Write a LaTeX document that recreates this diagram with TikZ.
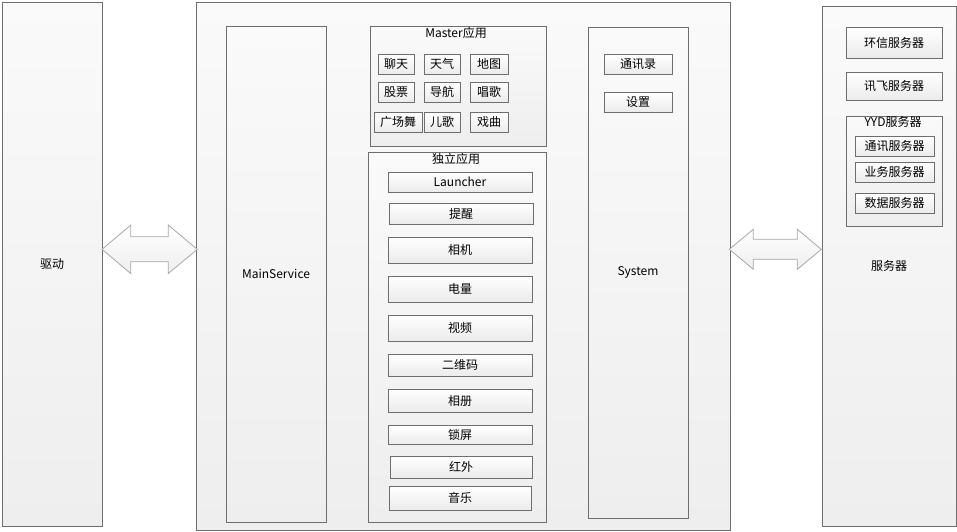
\documentclass[tikz,border=0pt]{standalone}
\usepackage{fontspec}
\setmainfont{Noto Sans CJK SC}
\definecolor{linegray}{HTML}{6E6E6E}
\definecolor{boxtop}{HTML}{FAFAFA}
\definecolor{boxbot}{HTML}{EEEEEE}
\definecolor{itemtop}{HTML}{FFFFFF}
\definecolor{itembot}{HTML}{EBEBEB}
\definecolor{arrowline}{HTML}{A8A8A8}
\begin{document}
\begin{tikzpicture}[x=1pt, y=-1pt, line width=1pt,
    font=\fontsize{12}{14}\selectfont,
    big box/.style={draw=linegray, top color=boxtop, bottom color=boxbot, anchor=north west, inner sep=0pt},
    item box/.style={draw=linegray, top color=itemtop, bottom color=itembot, anchor=north west, inner sep=0pt, minimum height=20},
    title node/.style={inner sep=0pt},
    block arrow/.style={draw=arrowline, line width=0.8pt, top color=white, bottom color=boxbot}]
    \useasboundingbox (0,0) rectangle (957,531);

    % left side: driver
    \node[big box, minimum width=100, minimum height=524] at (1.5, 1.5) (drv) {驱动};

    % middle block
    \node[big box, minimum width=534, minimum height=528] at (195.5, 1.5) (core) {};
    \node[big box, minimum width=100, minimum height=496] at (225.5, 25.5) (mainsvc) {MainService};

    \node[big box, minimum width=176, minimum height=120] at (369.5, 25.5) (master) {};
    \node[title node] at (456, 33) (mastertitle) {Master应用};
    \node[item box, minimum width=36] at (377.5, 53.5) (chat) {聊天};
    \node[item box, minimum width=36] at (423.5, 53.5) (weather) {天气};
    \node[item box, minimum width=38] at (469.5, 53.5) (map) {地图};
    \node[item box, minimum width=36] at (377.5, 81.5) (stock) {股票};
    \node[item box, minimum width=36] at (423.5, 81.5) (navi) {导航};
    \node[item box, minimum width=38] at (469.5, 81.5) (sing) {唱歌};
    \node[item box, minimum width=48] at (373.5, 111.5) (dance) {广场舞};
    \node[item box, minimum width=36] at (423.5, 111.5) (kids) {儿歌};
    \node[item box, minimum width=38] at (469.5, 111.5) (opera) {戏曲};

    \node[big box, minimum width=178, minimum height=370] at (367.5, 151.5) (apps) {};
    \node[title node] at (456, 159) (appstitle) {独立应用};
    \node[item box, minimum width=144] at (387.5, 171.5) (launcher) {Launcher};
    \node[item box, minimum width=144, minimum height=21] at (388.5, 202.5) (remind) {提醒};
    \node[item box, minimum width=144, minimum height=26] at (387.5, 236.5) (camera) {相机};
    \node[item box, minimum width=144, minimum height=26] at (387.5, 275.5) (power) {电量};
    \node[item box, minimum width=144, minimum height=26] at (387.5, 314.5) (video) {视频};
    \node[item box, minimum width=144, minimum height=22] at (387.5, 353.5) (qrcode) {二维码};
    \node[item box, minimum width=144, minimum height=23] at (387.5, 388.5) (album) {相册};
    \node[item box, minimum width=144, minimum height=19] at (387.5, 424.5) (lock) {锁屏};
    \node[item box, minimum width=142, minimum height=22] at (389.5, 455.5) (infra) {红外};
    \node[item box, minimum width=142, minimum height=24] at (388.5, 485.5) (music) {音乐};

    \node[big box, minimum width=100, minimum height=491] at (587.5, 26.5) (system) {System};
    \node[item box, minimum width=68] at (603.5, 53.5) (contacts) {通讯录};
    \node[item box, minimum width=68] at (603.5, 91.5) (settings) {设置};

    % right side: servers
    \node[big box, minimum width=134, minimum height=520] at (821.5, 5.5) (server) {服务器};
    \node[item box, minimum width=96, minimum height=31] at (845.5, 26.5) (hx) {环信服务器};
    \node[item box, minimum width=96, minimum height=28] at (845.5, 71.5) (xf) {讯飞服务器};
    \node[big box, minimum width=96, minimum height=110] at (845.5, 115.5) (yyd) {};
    \node[title node] at (893, 122) (yydtitle) {YYD服务器};
    \node[item box, minimum width=79] at (854.5, 135.5) (comm) {通讯服务器};
    \node[item box, minimum width=79] at (854.5, 161.5) (biz) {业务服务器};
    \node[item box, minimum width=79] at (854.5, 192.5) (data) {数据服务器};

    % double arrows
    \coordinate (la) at (102, 249.3);
    \coordinate (lb) at (197.3, 249.3);
    \coordinate (ra) at (729.3, 249.3);
    \coordinate (rb) at (821.3, 249.3);
    \path[block arrow] (la) -- ++(28.7,-24.2) -- ++(0,11.7) -- ++(37.6,0) -- ++(0,-11.7) -- (lb)
        -- ++(-29,24.2) -- ++(0,-11.7) -- ++(-37.6,0) -- ++(0,11.7) -- cycle;
    \path[block arrow] (ra) -- ++(24,-20) -- ++(0,10) -- ++(44,0) -- ++(0,-10) -- (rb)
        -- ++(-24,20) -- ++(0,-10) -- ++(-44,0) -- ++(0,10) -- cycle;

\end{tikzpicture}
\end{document}
